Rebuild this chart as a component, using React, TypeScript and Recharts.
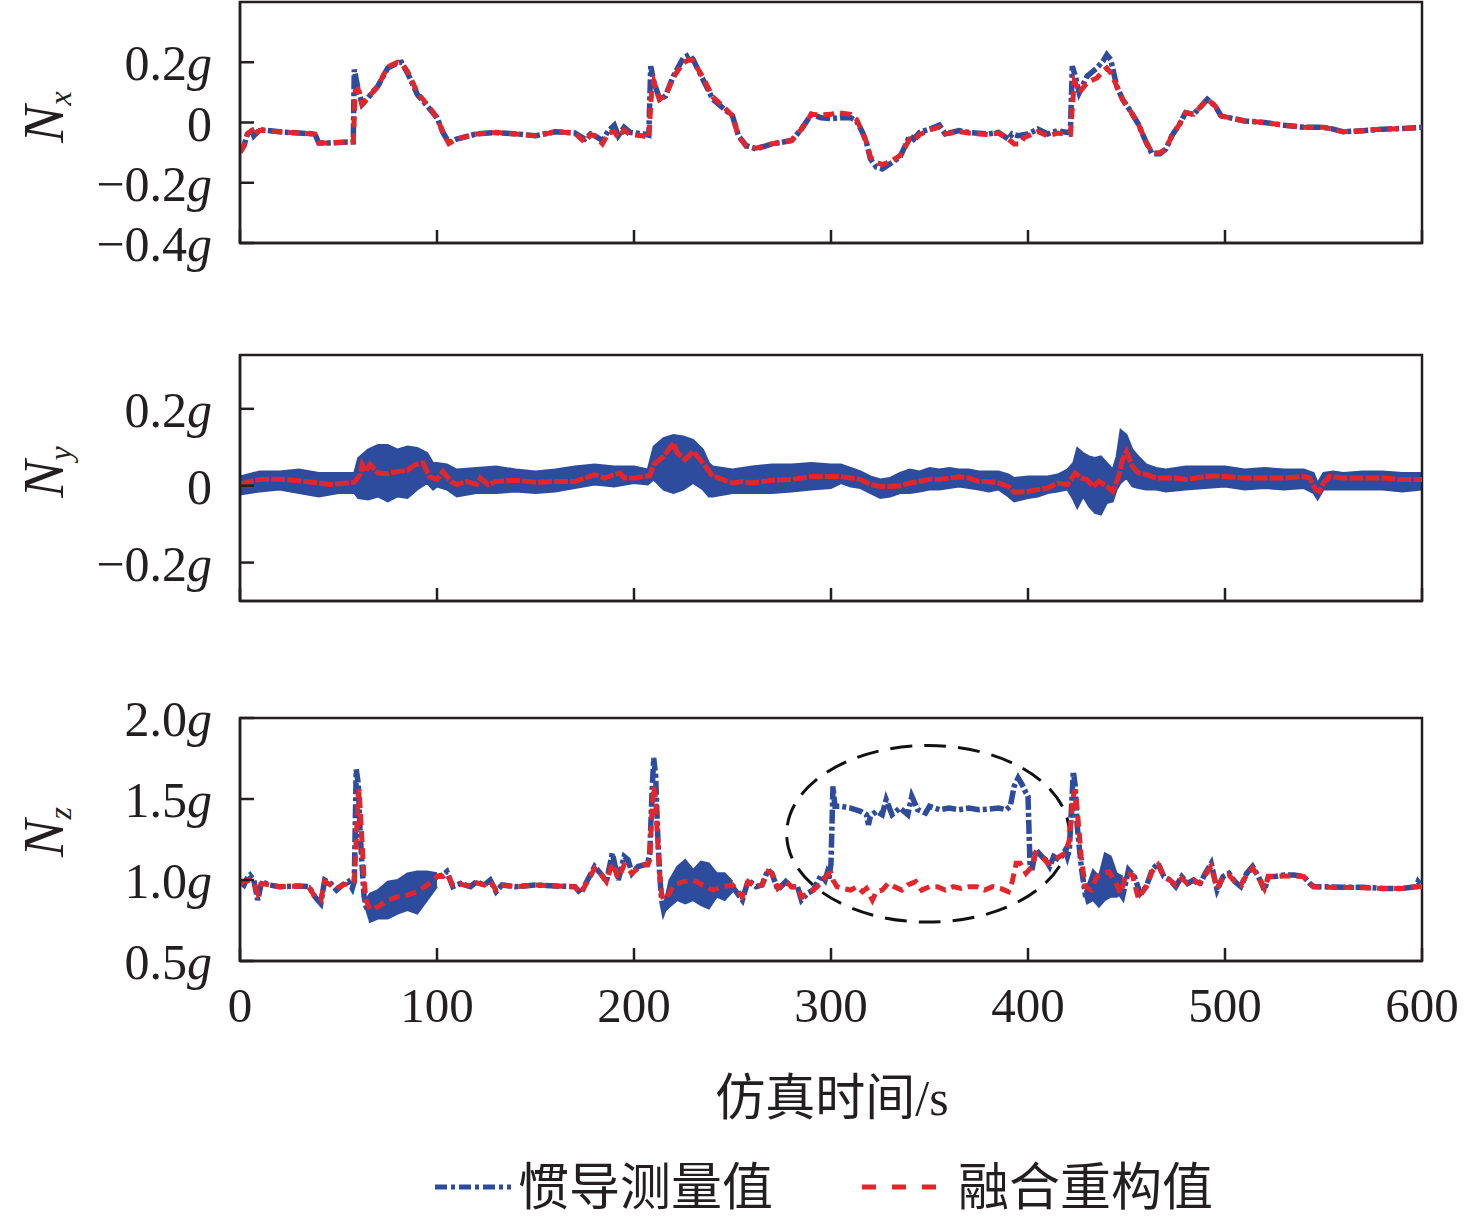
import React from 'react';
import { ComposedChart, Line, Area, XAxis, YAxis, ReferenceArea } from 'recharts';

type Pt = [number, number];
type Band = [number, number, number];

const BLUE = '#2E4C9E';
const RED = '#E2262B';
const INK = '#231F20';
const SERIF = '"Liberation Serif", "Times New Roman", serif';
const CJK = '"Liberation Serif", "Noto Sans CJK SC", serif';

const X_TICKS = [0, 100, 200, 300, 400, 500, 600];
const NX_TICKS = [-0.4, -0.2, 0, 0.2];
const NY_TICKS = [-0.2, 0, 0.2];
const NZ_TICKS = [0.5, 1.0, 1.5, 2.0];

const SERIES_NAMES = ['惯导测量值', '融合重构值'];
const X_TITLE = '仿真时间/s';

// Nx: inertial measurement (blue) and fused reconstruction (red)
const NX_MEASURED: Pt[] = [
  [0, -0.099], [2, -0.077], [4, -0.033], [6, -0.027], [7, -0.044], [10, -0.024], [20, -0.031], [30, -0.035],
  [38, -0.038], [40, -0.068], [45, -0.068], [50, -0.066], [57.5, -0.064], [58, 0.176], [59, 0.143], [60, 0.11],
  [62, 0.06], [65, 0.082], [70, 0.121], [75, 0.181], [80, 0.198], [82, 0.2], [85, 0.165], [90, 0.093], [95, 0.055],
  [100, 0.016], [103, -0.033], [106, -0.066], [110, -0.055], [120, -0.038], [130, -0.033], [140, -0.038],
  [150, -0.044], [160, -0.031], [170, -0.035], [175, -0.055], [178, -0.038], [180, -0.044], [184, -0.06],
  [187, -0.027], [190, -0.009], [192, -0.044], [195, -0.016], [198, -0.033], [205, -0.038], [207.5, -0.042],
  [208.5, 0.187], [210, 0.137], [213, 0.077], [216, 0.088], [220, 0.154], [225, 0.214], [228, 0.225], [230, 0.209],
  [235, 0.143], [240, 0.077], [245, 0.049], [250, 0.022], [253, -0.044], [257, -0.077], [262, -0.088], [270, -0.071],
  [280, -0.06], [285, -0.022], [290, 0.027], [295, 0.016], [300, 0.013], [305, 0.016], [310, 0.016], [313, 0.005],
  [316, -0.033], [318, -0.066], [320, -0.121], [323, -0.148], [326, -0.154], [330, -0.137], [335, -0.115],
  [340, -0.044], [342, -0.055], [345, -0.033], [350, -0.022], [355, -0.009], [358, -0.038], [365, -0.027],
  [370, -0.033], [380, -0.038], [385, -0.033], [390, -0.055], [392, -0.038], [395, -0.044], [400, -0.038],
  [405, -0.022], [410, -0.038], [415, -0.027], [420, -0.033], [421.5, -0.033], [422.5, 0.187], [424, 0.154],
  [426, 0.099], [430, 0.154], [435, 0.181], [438, 0.203], [440, 0.225], [442, 0.209], [445, 0.121], [448, 0.077],
  [452, 0.038], [456, -0.005], [460, -0.066], [463, -0.104], [467, -0.104], [470, -0.088], [473, -0.044],
  [477, -0.005], [480, 0.033], [484, 0.027], [488, 0.055], [491, 0.077], [495, 0.055], [498, 0.022], [502, 0.016],
  [510, 0.005], [520, 0], [530, -0.009], [540, -0.016], [550, -0.016], [555, -0.022], [560, -0.031], [570, -0.027],
  [580, -0.022], [590, -0.02], [600, -0.016],
];

const NX_FUSED: Pt[] = [
  [0, -0.099], [2, -0.077], [4, -0.035], [6, -0.027], [7, -0.044], [10, -0.026], [20, -0.031], [30, -0.035],
  [38, -0.038], [40, -0.068], [45, -0.068], [50, -0.066], [57.5, -0.064], [58.5, 0.104], [60, 0.11], [62, 0.06],
  [65, 0.082], [70, 0.121], [75, 0.185], [80, 0.2], [82, 0.196], [85, 0.17], [90, 0.1], [95, 0.06], [100, 0.016],
  [103, -0.033], [106, -0.07], [110, -0.055], [120, -0.038], [130, -0.033], [140, -0.038], [150, -0.044],
  [160, -0.031], [170, -0.035], [175, -0.066], [178, -0.04], [180, -0.044], [184, -0.071], [187, -0.035],
  [190, -0.03], [192, -0.05], [195, -0.025], [198, -0.04], [205, -0.045], [207.5, -0.053], [209, 0.11],
  [210, 0.137], [213, 0.077], [216, 0.09], [220, 0.15], [225, 0.198], [228, 0.209], [230, 0.205], [235, 0.15],
  [240, 0.085], [245, 0.055], [250, 0.022], [253, -0.044], [257, -0.08], [262, -0.085], [270, -0.071], [280, -0.06],
  [285, -0.022], [290, 0.027], [295, 0.025], [300, 0.027], [303, 0.033], [310, 0.027], [313, 0.01], [316, -0.033],
  [318, -0.066], [320, -0.115], [323, -0.132], [326, -0.14], [330, -0.13], [335, -0.11], [340, -0.055],
  [342, -0.06], [345, -0.04], [350, -0.025], [355, -0.015], [358, -0.038], [365, -0.03], [370, -0.035],
  [380, -0.04], [385, -0.035], [390, -0.055], [393, -0.071], [396, -0.071], [398, -0.05], [400, -0.045],
  [405, -0.03], [410, -0.045], [415, -0.035], [420, -0.04], [421.5, -0.04], [423.5, 0.137], [424, 0.132],
  [426, 0.099], [430, 0.132], [435, 0.148], [438, 0.17], [440, 0.181], [442, 0.165], [445, 0.121], [448, 0.077],
  [452, 0.038], [456, -0.005], [460, -0.066], [463, -0.1], [467, -0.1], [470, -0.088], [473, -0.044], [477, -0.005],
  [480, 0.033], [484, 0.027], [488, 0.055], [491, 0.077], [495, 0.055], [498, 0.022], [502, 0.016], [510, 0.005],
  [520, 0], [530, -0.009], [540, -0.016], [550, -0.016], [555, -0.022], [560, -0.031], [570, -0.027],
  [580, -0.022], [590, -0.02], [600, -0.016],
];

// Ny: measured signal is a noisy band [t, low, high]; fused value is a line
const NY_MEASURED_BAND: Band[] = [
  [0, -0.023, 0.024], [10, -0.015, 0.037], [20, -0.01, 0.037], [30, -0.019, 0.042], [40, -0.028, 0.033],
  [50, -0.019, 0.033], [58, -0.019, 0.033], [60, -0.032, 0.072], [65, -0.036, 0.094], [70, -0.028, 0.106],
  [75, -0.041, 0.106], [80, -0.028, 0.094], [85, -0.032, 0.102], [90, -0.01, 0.098], [95, 0.007, 0.085],
  [98, -0.01, 0.059], [100, -0.002, 0.059], [105, -0.01, 0.055], [110, -0.028, 0.042], [120, -0.019, 0.046],
  [130, -0.019, 0.05], [140, -0.015, 0.042], [150, -0.019, 0.037], [160, -0.015, 0.042], [170, -0.006, 0.05],
  [180, 0.003, 0.055], [190, -0.002, 0.05], [200, 0.007, 0.05], [207, 0.003, 0.042], [210, 0.016, 0.102],
  [215, -0.01, 0.124], [220, -0.019, 0.132], [225, -0.01, 0.128], [230, 0.007, 0.119], [235, -0.01, 0.094],
  [238, -0.028, 0.059], [240, -0.028, 0.05], [250, -0.019, 0.042], [260, -0.019, 0.05], [270, -0.019, 0.055],
  [280, -0.015, 0.055], [290, -0.01, 0.059], [300, -0.006, 0.055], [305, 0.007, 0.055], [310, -0.002, 0.046],
  [315, -0.006, 0.037], [320, -0.019, 0.024], [325, -0.032, 0.016], [330, -0.028, 0.02], [335, -0.019, 0.033],
  [340, -0.019, 0.042], [345, -0.015, 0.037], [350, -0.01, 0.046], [355, -0.01, 0.042], [360, -0.006, 0.046],
  [365, -0.002, 0.042], [370, -0.006, 0.042], [375, -0.01, 0.037], [380, -0.015, 0.037], [385, -0.01, 0.037],
  [390, -0.028, 0.029], [393, -0.041, 0.02], [400, -0.032, 0.024], [405, -0.028, 0.024], [410, -0.019, 0.024],
  [415, -0.015, 0.029], [420, -0.01, 0.042], [423, -0.036, 0.059], [425, -0.058, 0.098], [428, -0.028, 0.085],
  [431, -0.054, 0.076], [434, -0.071, 0.072], [437, -0.075, 0.076], [440, -0.045, 0.059], [443, -0.041, 0.042],
  [445, -0.01, 0.076], [447, 0.007, 0.145], [450, 0.02, 0.132], [453, -0.002, 0.094], [456, -0.006, 0.076],
  [460, -0.01, 0.055], [465, -0.01, 0.046], [470, -0.015, 0.042], [480, -0.01, 0.05], [490, -0.006, 0.05],
  [500, -0.002, 0.05], [510, -0.01, 0.042], [520, -0.006, 0.046], [530, -0.01, 0.042], [540, -0.006, 0.042],
  [545, -0.019, 0.033], [547, -0.036, 0.007], [550, -0.01, 0.033], [555, -0.01, 0.037], [560, -0.01, 0.033],
  [570, -0.01, 0.037], [580, -0.01, 0.037], [590, -0.015, 0.033], [600, -0.01, 0.033],
];

const NY_FUSED: Pt[] = [
  [0, 0.003], [5, 0.011], [10, 0.016], [20, 0.017], [30, 0.013], [40, 0.007], [45, 0.003], [50, 0.005], [58, 0.009],
  [61, 0.029], [62, 0.055], [64, 0.037], [66, 0.055], [70, 0.033], [75, 0.031], [80, 0.037], [85, 0.04], [89, 0.055],
  [93, 0.059], [96, 0.024], [100, 0.016], [103, 0.037], [107, 0.011], [110, 0.003], [115, 0.011], [120, 0.003],
  [122, 0.02], [126, 0.003], [130, 0.011], [140, 0.014], [150, 0.009], [160, 0.011], [170, 0.011], [175, 0.02],
  [180, 0.029], [185, 0.02], [190, 0.029], [193, 0.033], [195, 0.02], [200, 0.02], [205, 0.024], [208, 0.026],
  [210, 0.055], [215, 0.076], [220, 0.111], [222, 0.085], [226, 0.068], [230, 0.089], [235, 0.059], [240, 0.024],
  [243, 0.02], [250, 0.007], [255, 0.011], [260, 0.007], [270, 0.014], [280, 0.016], [290, 0.024], [300, 0.024],
  [305, 0.024], [310, 0.02], [315, 0.016], [320, 0.003], [325, -0.002], [330, -0.002], [335, 0], [340, 0.007],
  [345, 0.011], [350, 0.017], [355, 0.016], [360, 0.02], [365, 0.023], [370, 0.02], [375, 0.011], [380, 0.011],
  [385, 0.007], [390, -0.002], [393, -0.017], [400, -0.015], [405, -0.01], [410, -0.006], [415, 0.007], [420, 0.003],
  [424, 0.033], [427, 0.02], [430, 0.016], [433, -0.002], [436, 0.011], [440, -0.002], [443, -0.015], [446, 0.024],
  [448, 0.068], [450, 0.089], [453, 0.05], [456, 0.033], [460, 0.029], [465, 0.02], [470, 0.02], [475, 0.02],
  [480, 0.016], [485, 0.02], [490, 0.024], [495, 0.026], [500, 0.024], [510, 0.02], [520, 0.02], [530, 0.02],
  [540, 0.024], [543, 0.02], [546, -0.01], [548, -0.015], [550, 0.007], [553, 0.024], [560, 0.02], [570, 0.02],
  [580, 0.02], [590, 0.016], [600, 0.016],
];

// Nz
const NZ_MEASURED: Pt[] = [
  [0, 0.99], [2, 0.969], [4, 1.021], [5, 1.031], [7, 1.0], [9, 0.876], [11, 0.99], [15, 0.969], [20, 0.959],
  [30, 0.963], [35, 0.959], [38, 0.897], [41, 0.855], [43, 1.0], [46, 0.979], [49, 0.938], [52, 0.969], [55, 0.99],
  [57, 0.948], [58, 0.99], [59, 1.682], [60, 1.599], [61, 1.289], [62, 1.083], [63, 0.897], [64, 0.835], [66, 0.793],
  [70, 0.835], [75, 0.855], [80, 0.886], [85, 0.917], [90, 0.928], [95, 0.969], [100, 1.021], [103, 1.031],
  [105, 1.052], [108, 0.959], [112, 0.979], [117, 0.959], [120, 0.99], [124, 0.969], [127, 1.0], [130, 0.928],
  [133, 0.969], [140, 0.959], [150, 0.969], [160, 0.963], [170, 0.959], [173, 0.917], [176, 0.99], [180, 1.083],
  [183, 1.041], [186, 0.99], [189, 1.165], [192, 1.0], [195, 1.145], [197, 1.124], [199, 1.041], [202, 1.083],
  [205, 1.093], [207, 1.103], [208, 1.165], [209, 1.496], [210, 1.754], [211, 1.64], [212, 1.289], [213, 1.041],
  [214, 0.876], [215, 0.814], [218, 0.917], [222, 0.979], [226, 0.99], [230, 0.969], [234, 0.979], [238, 0.959],
  [242, 0.969], [246, 0.959], [250, 0.959], [255, 0.876], [258, 1.0], [262, 0.959], [265, 0.969], [268, 1.062],
  [270, 1.041], [273, 0.938], [277, 0.99], [280, 0.959], [283, 0.959], [285, 0.876], [288, 0.917], [291, 0.938],
  [295, 1.031], [297, 1.0], [298, 1.041], [299, 1.01], [300, 1.103], [301, 1.579], [302, 1.455], [305, 1.455],
  [310, 1.444], [315, 1.424], [318, 1.403], [319, 1.341], [320, 1.393], [323, 1.424], [326, 1.403], [328, 1.496],
  [331, 1.403], [335, 1.444], [339, 1.403], [341, 1.517], [344, 1.434], [348, 1.413], [350, 1.455], [355, 1.434],
  [360, 1.444], [365, 1.434], [370, 1.444], [375, 1.434], [380, 1.438], [385, 1.444], [389, 1.434], [391, 1.455],
  [393, 1.579], [395, 1.63], [397, 1.589], [399, 1.537], [400, 1.517], [401, 1.103], [402, 1.062], [404, 1.186],
  [407, 1.145], [409, 1.124], [411, 1.083], [413, 1.145], [416, 1.124], [419, 1.186], [420, 1.145], [421, 1.186],
  [423, 1.671], [424, 1.579], [425, 1.331], [427, 1.083], [429, 0.917], [432, 0.938], [436, 0.928], [440, 1.0],
  [444, 0.969], [448, 0.897], [451, 1.062], [454, 1.021], [457, 0.917], [460, 0.959], [463, 1.062], [466, 1.103],
  [469, 1.021], [472, 1.0], [475, 0.959], [478, 1.021], [481, 0.979], [484, 1.0], [487, 0.969], [490, 1.041],
  [493, 1.103], [496, 0.938], [499, 1.021], [502, 1.041], [505, 0.99], [508, 0.959], [511, 1.041], [514, 1.083],
  [517, 1.021], [520, 0.938], [522, 1.021], [525, 1.021], [530, 1.031], [535, 1.031], [540, 1.021], [543, 0.979],
  [545, 0.959], [550, 0.959], [560, 0.955], [570, 0.955], [580, 0.948], [590, 0.948], [597, 0.959], [598, 0.99],
  [600, 0.959],
];

const NZ_FUSED: Pt[] = [
  [0, 0.979], [2, 0.99], [5, 1.0], [7, 0.983], [9, 0.917], [11, 0.979], [15, 0.969], [20, 0.959], [30, 0.963],
  [35, 0.955], [38, 0.897], [41, 0.876], [43, 0.99], [46, 0.969], [49, 0.948], [52, 0.969], [55, 0.979], [58, 0.99],
  [59, 1.248], [60, 1.517], [60.5, 1.56], [61, 1.434], [62, 1.227], [63, 1.0], [64, 0.876], [66, 0.814], [70, 0.835],
  [75, 0.876], [80, 0.897], [85, 0.907], [90, 0.928], [95, 0.969], [100, 1.021], [103, 1.021], [105, 1.041],
  [108, 0.969], [112, 0.975], [117, 0.959], [120, 0.983], [124, 0.969], [127, 0.99], [130, 0.938], [133, 0.969],
  [140, 0.959], [150, 0.969], [160, 0.963], [170, 0.959], [173, 0.917], [176, 0.983], [180, 1.072], [183, 1.041],
  [186, 0.99], [189, 1.103], [192, 1.01], [195, 1.093], [199, 1.041], [202, 1.072], [205, 1.093], [207, 1.093],
  [208, 1.124], [209, 1.393], [210, 1.579], [211, 1.496], [212, 1.248], [213, 1.041], [214, 0.917], [215, 0.876],
  [218, 0.917], [220, 0.969], [225, 0.99], [230, 1.0], [235, 0.969], [240, 0.938], [245, 0.959], [250, 0.969],
  [255, 0.897], [258, 0.99], [262, 0.959], [265, 0.969], [268, 1.052], [270, 1.041], [273, 0.948], [277, 0.99],
  [280, 0.959], [283, 0.959], [285, 0.897], [288, 0.917], [291, 0.938], [293, 0.959], [296, 1.0], [299, 1.041],
  [300, 1.041], [301, 1.0], [303, 0.959], [306, 0.948], [310, 0.938], [313, 0.959], [316, 0.928], [318, 0.948],
  [321, 0.876], [323, 0.928], [326, 0.938], [329, 0.979], [332, 0.959], [336, 0.938], [339, 0.969], [343, 0.99],
  [346, 0.938], [350, 0.959], [354, 0.959], [358, 0.938], [362, 0.959], [366, 0.948], [370, 0.959], [374, 0.959],
  [378, 0.938], [382, 0.959], [386, 0.948], [390, 0.928], [392, 0.99], [394, 1.103], [396, 1.103], [399, 1.041],
  [402, 1.083], [404, 1.165], [407, 1.145], [410, 1.103], [413, 1.124], [416, 1.145], [419, 1.165], [421, 1.248],
  [423, 1.517], [424, 1.558], [425, 1.434], [427, 1.145], [429, 0.959], [432, 0.938], [435, 1.021], [438, 1.041],
  [441, 1.052], [444, 1.0], [447, 0.917], [450, 1.041], [453, 1.031], [456, 0.886], [460, 0.959], [463, 1.052],
  [466, 1.093], [469, 1.021], [472, 1.0], [475, 0.969], [478, 1.01], [481, 0.979], [484, 1.0], [487, 0.979],
  [490, 1.031], [493, 1.083], [496, 0.948], [499, 1.021], [502, 1.031], [505, 0.99], [508, 0.969], [511, 1.031],
  [514, 1.072], [517, 1.021], [520, 0.948], [522, 1.021], [525, 1.021], [530, 1.025], [535, 1.025], [540, 1.021],
  [543, 0.979], [545, 0.959], [550, 0.955], [560, 0.955], [570, 0.952], [580, 0.948], [590, 0.948], [597, 0.959],
  [600, 0.959],
];

// noisy stretches of the measured Nz signal, [t, low, high]
const NZ_NOISE_A: Band[] = [
  [64, 0.82, 0.88], [66, 0.742, 0.917], [70, 0.762, 0.938], [75, 0.762, 0.99], [80, 0.793, 1.0],
  [85, 0.814, 1.041], [90, 0.793, 1.052], [95, 0.876, 1.052], [100, 0.959, 1.041],
];
const NZ_NOISE_B: Band[] = [
  [215, 0.8, 0.83], [218, 0.835, 1.0], [222, 0.876, 1.083], [226, 0.855, 1.124], [230, 0.876, 1.062],
  [234, 0.845, 1.114], [238, 0.824, 1.103], [242, 0.897, 1.041], [246, 0.876, 1.041], [250, 0.928, 0.99],
];
const NZ_NOISE_C: Band[] = [
  [429, 0.9, 0.93], [430, 0.855, 0.959], [433, 0.876, 1.062], [436, 0.835, 1.021], [439, 0.876, 1.165],
  [442, 0.897, 1.145], [445, 0.897, 1.041], [448, 0.917, 1.021],
];

// dashed ellipse marking the fault window, in data units
const FAULT_T = [277.5, 421];
const FAULT_G = [0.74, 1.83];

const rows = (pts: Pt[]) => pts.map(([t, v]) => ({ t, v }));
const bandRows = (pts: Band[]) => pts.map(([t, lo, hi]) => ({ t, band: [lo, hi] }));

const fmtG = (v: number) => {
  if (v === 0) return <tspan>0</tspan>;
  const s = (v < 0 ? '\u2212' : '') + Math.abs(v).toFixed(1);
  return (
    <>
      <tspan>{s}</tspan>
      <tspan fontStyle="italic">g</tspan>
    </>
  );
};

function YTick(props: any) {
  const { x, y, payload } = props;
  return (
    <g>
      <line x1={x} x2={x + 14} y1={y} y2={y} stroke={INK} strokeWidth={2.5} />
      <text x={x - 28} y={y} dy="0.36em" textAnchor="end" fontSize={50} fontFamily={SERIF} fill={INK}>
        {fmtG(payload.value)}
      </text>
    </g>
  );
}

function XTick(props: any) {
  const { x, y, payload, showLabel } = props;
  return (
    <g>
      <line x1={x} x2={x} y1={y} y2={y - 13} stroke={INK} strokeWidth={2.5} />
      {showLabel && (
        <text x={x} y={y + 61} textAnchor="middle" fontSize={49} fontFamily={SERIF} fill={INK}>
          {payload.value}
        </text>
      )}
    </g>
  );
}

const TOP_PAD = 40;

function Panel({ plotTop, plotHeight, domain, ticks, showXLabels, children }: any) {
  const bottom = showXLabels ? 90 : 40;
  return (
    <div style={{ position: 'absolute', left: 0, top: plotTop - TOP_PAD }}>
      <ComposedChart
        width={1476}
        height={TOP_PAD + plotHeight + bottom}
        margin={{ top: TOP_PAD, right: 54, bottom: 0, left: 0 }}
      >
        <XAxis
          type="number"
          dataKey="t"
          domain={[0, 600]}
          ticks={X_TICKS}
          interval={0}
          allowDataOverflow
          height={bottom}
          tickSize={0}
          tickMargin={0}
          tickLine={false}
          axisLine={{ stroke: INK, strokeWidth: 2.5 }}
          tick={(p: any) => <XTick {...p} showLabel={showXLabels} />}
        />
        <YAxis
          type="number"
          domain={domain}
          ticks={ticks}
          interval={0}
          allowDataOverflow
          width={240}
          tickSize={0}
          tickMargin={0}
          tickLine={false}
          axisLine={{ stroke: INK, strokeWidth: 2.5 }}
          tick={(p: any) => <YTick {...p} />}
        />
        {children}
        <ReferenceArea
          x1={0}
          x2={600}
          y1={domain[0]}
          y2={domain[1]}
          fill="none"
          fillOpacity={0}
          stroke={INK}
          strokeWidth={2.5}
          ifOverflow="visible"
        />
      </ComposedChart>
    </div>
  );
}

const measuredLine = (pts: Pt[]) => (
  <Line
    data={rows(pts)}
    dataKey="v"
    type="linear"
    stroke={BLUE}
    strokeWidth={5.5}
    strokeDasharray="14 3 4 3"
    dot={false}
    activeDot={false}
    isAnimationActive={false}
  />
);

const fusedLine = (pts: Pt[], width = 5, dash = '11 6') => (
  <Line
    data={rows(pts)}
    dataKey="v"
    type="linear"
    stroke={RED}
    strokeWidth={width}
    strokeDasharray={dash}
    dot={false}
    activeDot={false}
    isAnimationActive={false}
  />
);

const noiseArea = (pts: Band[]) => (
  <Area
    data={bandRows(pts)}
    dataKey="band"
    type="linear"
    stroke={BLUE}
    strokeWidth={2}
    fill={BLUE}
    fillOpacity={1}
    dot={false}
    activeDot={false}
    isAnimationActive={false}
  />
);

function AxisName({ cy, sub }: { cy: number; sub: string }) {
  return (
    <text
      transform={`rotate(-90 63 ${cy})`}
      x={63}
      y={cy}
      textAnchor="middle"
      fontFamily={SERIF}
      fontSize={56}
      fontStyle="italic"
      fill={INK}
    >
      N
      <tspan fontSize={32} dy={8}>
        {sub}
      </tspan>
    </text>
  );
}

export default function App() {
  return (
    <div style={{ position: 'absolute', left: 0, top: 0, width: 1476, height: 1218, background: '#fff' }}>
      <Panel plotTop={2} plotHeight={241} domain={[-0.4, 0.4]} ticks={NX_TICKS} showXLabels={false}>
        {measuredLine(NX_MEASURED)}
        {fusedLine(NX_FUSED)}
      </Panel>
      <Panel plotTop={355} plotHeight={246} domain={[-0.3, 0.34]} ticks={NY_TICKS} showXLabels={false}>
        {noiseArea(NY_MEASURED_BAND)}
        {fusedLine(NY_FUSED, 5, '14 2')}
      </Panel>
      <Panel plotTop={718} plotHeight={243} domain={[0.5, 2.0]} ticks={NZ_TICKS} showXLabels>
        {noiseArea(NZ_NOISE_A)}
        {noiseArea(NZ_NOISE_B)}
        {noiseArea(NZ_NOISE_C)}
        {measuredLine(NZ_MEASURED)}
        {fusedLine(NZ_FUSED)}
        <ReferenceArea
          x1={FAULT_T[0]}
          x2={FAULT_T[1]}
          y1={FAULT_G[0]}
          y2={FAULT_G[1]}
          shape={(p: any) => (
            <ellipse
              cx={p.x + p.width / 2}
              cy={p.y + p.height / 2}
              rx={Math.abs(p.width) / 2}
              ry={Math.abs(p.height) / 2}
              fill="none"
              stroke="#111"
              strokeWidth={3}
              strokeDasharray="22 12"
            />
          )}
        />
      </Panel>
      <svg width={1476} height={1218} style={{ position: 'absolute', left: 0, top: 0, pointerEvents: 'none' }}>
        <AxisName cy={117} sub="x" />
        <AxisName cy={472} sub="y" />
        <AxisName cy={832} sub="z" />
        <text x={832} y={1115} textAnchor="middle" fontSize={50} fontFamily={CJK} fill={INK}>
          {X_TITLE}
        </text>
        <line x1={435} x2={511} y1={1187} y2={1187} stroke={BLUE} strokeWidth={5} strokeDasharray="12 4 4 4" />
        <text x={518} y={1205} fontSize={51} fontFamily={CJK} fill={INK}>
          {SERIES_NAMES[0]}
        </text>
        <line x1={862} x2={936} y1={1187} y2={1187} stroke={RED} strokeWidth={5} strokeDasharray="14 16" />
        <text x={958} y={1205} fontSize={51} fontFamily={CJK} fill={INK}>
          {SERIES_NAMES[1]}
        </text>
      </svg>
    </div>
  );
}
